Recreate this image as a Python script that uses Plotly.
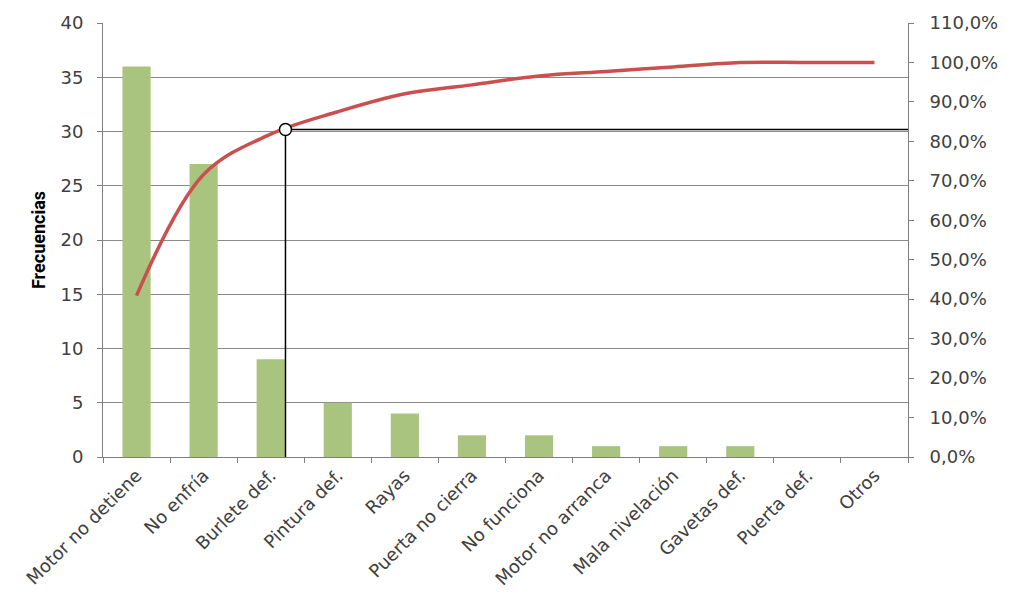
import plotly.graph_objects as go

# Defect categories and observed frequencies
categorias = ["Motor no detiene", "No enfría", "Burlete def.", "Pintura def.", "Rayas",
              "Puerta no cierra", "No funciona", "Motor no arranca", "Mala nivelación",
              "Gavetas def.", "Puerta def.", "Otros"]
frecuencias = [36, 27, 9, 5, 4, 2, 2, 1, 1, 1, 0, 0]

# Cumulative percentage (Pareto curve)
total = sum(frecuencias)
acumulado = []
s = 0
for f in frecuencias:
    s += f
    acumulado.append(100 * s / total)

# Cut-off point highlighted on the curve (category index position, percent)
corte_x = 2.22
corte_y = 83.0

fig = go.Figure()

fig.add_trace(go.Bar(
    x=categorias, y=frecuencias, width=0.42,
    marker=dict(color="#a9c47f", line=dict(width=0)),
    yaxis="y", showlegend=False,
))

fig.add_trace(go.Scatter(
    x=categorias, y=acumulado, mode="lines",
    line=dict(color="#c9504f", width=3.5, shape="spline", smoothing=1.0),
    yaxis="y2", showlegend=False,
))

axis_font = dict(family="DejaVu Sans, sans-serif", size=18, color="#404040")

fig.update_layout(
    width=1010, height=612,
    margin=dict(l=103, r=100, t=17, b=155),
    paper_bgcolor="white", plot_bgcolor="white",
    separators=",.",
    bargap=0.58,
    xaxis=dict(
        type="category", tickangle=-45, tickfont=axis_font,
        showline=True, linecolor="#7f7f7f", linewidth=1,
        ticks="outside", tickson="boundaries", ticklen=5, tickcolor="#7f7f7f",
        showgrid=False, range=[-0.5, 11.5],
    ),
    yaxis=dict(
        range=[0, 40], dtick=5, tickfont=axis_font,
        showline=True, linecolor="#7f7f7f", linewidth=1,
        ticks="outside", ticklen=5, tickcolor="#7f7f7f", ticklabelstandoff=10,
        showgrid=True, gridcolor="#8a8a8a", gridwidth=1,
        zeroline=False,
        title=dict(text="<b>Frecuencias</b>", standoff=10,
                   font=dict(family="Liberation Sans Narrow, Roboto, sans-serif", size=18, color="#000000")),
    ),
    yaxis2=dict(
        overlaying="y", side="right", range=[0, 110], dtick=10,
        tickformat=".1f", ticksuffix="%", tickfont=axis_font,
        showline=True, linecolor="#7f7f7f", linewidth=1,
        ticks="outside", ticklen=5, tickcolor="#7f7f7f", ticklabelstandoff=12,
        showgrid=False, zeroline=False,
    ),
)

# Reference lines from the cut-off point to the right axis and down to the x axis
fig.add_shape(type="line", xref="x", yref="y2", x0=corte_x, x1=11.5, y0=corte_y, y1=corte_y,
              line=dict(color="#000000", width=1.5))
fig.add_shape(type="line", xref="x", yref="y2", x0=corte_x, x1=corte_x, y0=0, y1=corte_y,
              line=dict(color="#000000", width=1.5))
fig.add_shape(type="circle", xref="x", yref="y2",
              xsizemode="pixel", ysizemode="pixel",
              xanchor=corte_x, yanchor=corte_y, x0=-6, x1=6, y0=-6, y1=6,
              fillcolor="white", line=dict(color="#000000", width=1.5))

fig.write_html("out.html")
